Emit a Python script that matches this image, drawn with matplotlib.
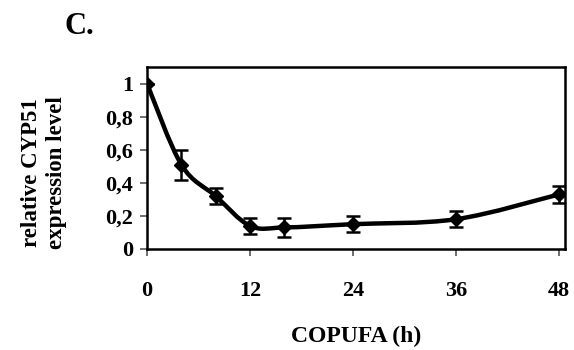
import matplotlib

matplotlib.use("Agg")

import matplotlib.pyplot as plt
import numpy as np
from matplotlib.patches import PathPatch
from matplotlib.path import Path
from matplotlib.ticker import FuncFormatter

hours = [0, 4, 8, 12, 16, 24, 36, 48]
expression = [1.0, 0.51, 0.32, 0.14, 0.13, 0.15, 0.18, 0.33]
errors = [0.0, 0.09, 0.05, 0.05, 0.06, 0.05, 0.05, 0.05]
x_ticks = [0, 12, 24, 36, 48]
y_ticks = [0, 0.2, 0.4, 0.6, 0.8, 1.0]


def smooth_path(xs, ys, tension=1 / 6):
    # Excel-style smoothed line: cubic Bezier segments through each point
    pts = np.column_stack([xs, ys]).astype(float)
    verts = [pts[0]]
    codes = [Path.MOVETO]
    for i in range(len(pts) - 1):
        p0 = pts[i - 1] if i > 0 else pts[i]
        p1 = pts[i]
        p2 = pts[i + 1]
        p3 = pts[i + 2] if i + 2 < len(pts) else pts[i + 1]
        c1 = p1 + (p2 - p0) * tension
        c2 = p2 - (p3 - p1) * tension
        verts += [c1, c2, p2]
        codes += [Path.CURVE4] * 3
    return Path(verts, codes)


plt.rcParams["font.family"] = ["Liberation Serif", "DejaVu Serif"]
plt.rcParams["font.weight"] = "bold"

fig = plt.figure(figsize=(5.74, 3.5), dpi=100)
ax = fig.add_axes([147 / 574, 1 - 249 / 350, 418 / 574, 182 / 350])

ax.add_patch(PathPatch(smooth_path(hours, expression), facecolor="none",
                       edgecolor="black", lw=3.2, zorder=3))
ax.errorbar(hours, expression, yerr=errors, fmt="D", color="black", ms=7,
            ecolor="black", elinewidth=1.8, capsize=5, capthick=1.8, zorder=4)

ax.set_xlim(0, 48.7)
ax.set_ylim(0, 1.1)
ax.set_xticks(x_ticks)
ax.set_yticks(y_ticks)
ax.yaxis.set_major_formatter(FuncFormatter(
    lambda v, _: "0" if v == 0 else ("1" if v == 1 else f"{v:.1f}".replace(".", ","))))
ax.tick_params(axis="both", labelsize=16, length=5, width=1.2, color="#555555")
ax.tick_params(axis="x", pad=18)
ax.tick_params(axis="y", pad=5)
for side in ax.spines.values():
    side.set_linewidth(1.8)
    side.set_color("black")

ax.set_xlabel("COPUFA (h)", fontsize=17, fontweight="bold", labelpad=18)

fig.text(44 / 574, 1 - 173 / 350, "relative CYP51\nexpression level",
         fontsize=16.5, fontweight="bold", rotation=90, ha="center",
         va="center", multialignment="center", linespacing=1.25)

fig.text(64 / 574, 1 - 26 / 350, "C.", fontsize=22, fontweight="bold",
         va="center", ha="left")

fig.savefig("out.png", dpi=100)
